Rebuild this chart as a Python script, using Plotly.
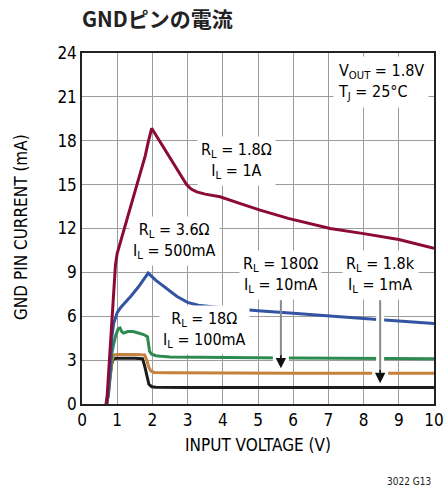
import plotly.graph_objects as go

# Input voltage (V) / GND pin current (mA) for each load condition
vin_1a = [0.7, 0.74, 0.78, 0.82, 0.86, 0.9, 0.95, 1.0, 1.06, 1.13, 1.3, 1.6, 1.8, 1.88, 1.92, 1.98,
          2.2, 2.4, 2.6, 2.8, 2.97, 3.1, 3.26, 3.5, 3.92, 4.5, 5.06, 5.86, 7.05, 8, 9, 10]
ignd_1a = [0, 1.5, 3.0, 4.8, 6.5, 8.2, 9.5, 10.3, 10.8, 11.3, 12.8, 15.3, 17.0, 17.9, 18.3, 18.85,
           18.0, 17.2, 16.4, 15.65, 15.0, 14.7, 14.5, 14.35, 14.17, 13.7, 13.26, 12.69, 12.0, 11.65, 11.25, 10.64]

vin_500ma = [0.7, 0.75, 0.8, 0.85, 0.9, 1.0, 1.1, 1.22, 1.4, 1.6, 1.75, 1.88, 2.1, 2.4, 2.7, 3.0,
             3.3, 3.7, 4, 5, 6, 7, 8, 9, 10]
ignd_500ma = [0, 0.8, 2.4, 4.6, 5.5, 6.25, 6.6, 6.9, 7.4, 8.0, 8.5, 8.95, 8.45, 7.9, 7.35, 6.95,
              6.75, 6.65, 6.6, 6.38, 6.2, 6.0, 5.85, 5.68, 5.5]

vin_100ma = [0.7, 0.75, 0.8, 0.85, 0.9, 0.96, 1.03, 1.08, 1.13, 1.18, 1.3, 1.45, 1.6, 1.75, 1.86,
             1.89, 1.92, 1.98, 2.1, 2.5, 3, 4, 5, 6, 7, 8, 9, 10]
ignd_100ma = [0, 0.7, 2.0, 3.5, 4.1, 4.7, 5.15, 5.2, 4.95, 4.85, 4.95, 4.95, 4.85, 4.75, 4.6,
              4.1, 3.6, 3.4, 3.3, 3.22, 3.2, 3.18, 3.17, 3.15, 3.13, 3.12, 3.11, 3.1]

vin_10ma = [0.7, 0.75, 0.8, 0.85, 0.9, 1.0, 1.5, 1.78, 1.84, 1.9, 1.96, 2.05, 2.5, 3, 4, 5, 6, 7, 8, 9, 10]
ignd_10ma = [0, 0.6, 1.8, 2.9, 3.35, 3.38, 3.38, 3.36, 3.0, 2.5, 2.25, 2.16, 2.14, 2.13, 2.12, 2.12,
             2.11, 2.11, 2.1, 2.1, 2.1]

vin_1ma = [0.68, 0.72, 0.78, 0.84, 0.89, 1.0, 1.5, 1.72, 1.78, 1.84, 1.9, 1.98, 2.1, 3, 4, 5, 6, 7, 8, 9, 10]
ignd_1ma = [0, 0.5, 1.6, 2.7, 3.1, 3.12, 3.12, 3.1, 2.6, 1.9, 1.35, 1.18, 1.14, 1.13, 1.13, 1.13,
            1.12, 1.12, 1.12, 1.12, 1.12]

x_ticks = list(range(0, 11))
y_ticks = list(range(0, 25, 3))

FONT = "Liberation Sans Narrow, DejaVu Sans Condensed, Arial Narrow, sans-serif"
C_RED = "#8c0b34"
C_BLUE = "#3353a3"
C_GREEN = "#2e8a4e"
C_ORANGE = "#c7813d"
C_BLACK = "#1c1c1c"
GRID = "#9c9c9c"

fig = go.Figure()
series = [
    (vin_1ma, ignd_1ma, C_BLACK),
    (vin_10ma, ignd_10ma, C_ORANGE),
    (vin_100ma, ignd_100ma, C_GREEN),
    (vin_500ma, ignd_500ma, C_BLUE),
    (vin_1a, ignd_1a, C_RED),
]
for xs, ys, col in series:
    fig.add_trace(go.Scatter(x=xs, y=ys, mode="lines", line=dict(color=col, width=3),
                             showlegend=False, hoverinfo="skip"))

shapes = []
# white knock-outs where the pointer arrows cross the curves
shapes.append(dict(type="line", xref="x", yref="y", x0=5.65, x1=5.65, y0=3.6, y1=2.7,
                   line=dict(color="white", width=16), layer="above"))
shapes.append(dict(type="line", xref="x", yref="y", x0=8.47, x1=8.47, y0=6.3, y1=2.6,
                   line=dict(color="white", width=8), layer="above"))
shapes.append(dict(type="line", xref="x", yref="y", x0=8.47, x1=8.47, y0=2.6, y1=1.6,
                   line=dict(color="white", width=16), layer="above"))
# pointer shafts
for xa, yb in [(5.65, 3.2), (8.47, 2.2)]:
    shapes.append(dict(type="line", xref="x", yref="y", x0=xa, x1=xa, y0=7.1, y1=yb,
                       line=dict(color="#8a8a8a", width=2), layer="above"))

ann = []
label_font = dict(family=FONT, size=16, color="black")
for txt, xx, yy in [
    ("R<sub>L</sub> = 1.8Ω<br>I<sub>L</sub> = 1A", 4.375, 16.6),
    ("R<sub>L</sub> = 3.6Ω<br>I<sub>L</sub> = 500mA", 2.64, 11.14),
    ("R<sub>L</sub> = 18Ω<br>I<sub>L</sub> = 100mA", 3.49, 5.06),
    ("R<sub>L</sub> = 180Ω<br>I<sub>L</sub> = 10mA", 5.65, 8.8),
    ("R<sub>L</sub> = 1.8k<br>I<sub>L</sub> = 1mA", 8.47, 8.8),
]:
    ann.append(dict(text=txt, x=xx, y=yy, xref="x", yref="y", showarrow=False, align="center",
                    font=label_font, bgcolor="white", borderpad=3))
ann.append(dict(text="V<sub>OUT</sub> = 1.8V<br>T<sub>J</sub> = 25°C", x=7.12, y=22.05, xref="x", yref="y",
                xanchor="left", showarrow=False, align="left", font=label_font,
                bgcolor="white", borderpad=4))
# arrow heads
for xa, ytip in [(5.65, 2.44), (8.47, 1.42)]:
    ann.append(dict(x=xa, y=ytip, ax=xa, ay=ytip + 1.0, xref="x", yref="y", axref="x", ayref="y",
                    text="", showarrow=True, arrowhead=2, arrowsize=1.3, arrowwidth=1.6,
                    arrowcolor="#111111", standoff=0))

# axis title, chart title and figure code, placed in pixels
captions = [
    dict(text="GND PIN CURRENT (mA)", textangle=-90, x=21, y=227, xanchor="center", yanchor="middle",
         font=dict(family=FONT, size=17, color="black")),
    dict(text="<b>GNDピンの電流</b>", x=80, y=18, xanchor="left", yanchor="middle",
         font=dict(family="Noto Sans CJK JP", size=21, color="#222222")),
    dict(text="3022 G13", x=433, y=481, xanchor="right", yanchor="middle",
         font=dict(family=FONT, size=10, color="#222222")),
]

W, H = 445, 487
ML, MR, MT, MB = 82, 11, 53, 83
pw, ph = W - ML - MR, H - MT - MB
for c in captions:
    c.update(xref="paper", yref="paper", showarrow=False,
             x=(c["x"] - ML) / pw, y=(H - MB - c["y"]) / ph)
    ann.append(c)

fig.update_layout(
    width=W, height=H,
    margin=dict(l=ML, r=MR, t=MT, b=MB, autoexpand=False),
    paper_bgcolor="white", plot_bgcolor="white",
    shapes=shapes, annotations=ann,
    xaxis=dict(range=[0, 10], tickvals=x_ticks, ticks="", showgrid=True, gridcolor=GRID, gridwidth=1.3,
               showline=True, linecolor="#222222", linewidth=1.5, mirror=True, zeroline=False,
               tickfont=dict(family=FONT, size=17, color="black"),
               title=dict(text="INPUT VOLTAGE (V)", font=dict(family=FONT, size=17, color="black"), standoff=10)),
    yaxis=dict(range=[0, 24], tickvals=y_ticks, ticks="", showgrid=True, gridcolor=GRID, gridwidth=1.3,
               showline=True, linecolor="#222222", linewidth=1.5, mirror=True, zeroline=False,
               tickfont=dict(family=FONT, size=17, color="black")),
)

fig.write_html("out.html")
